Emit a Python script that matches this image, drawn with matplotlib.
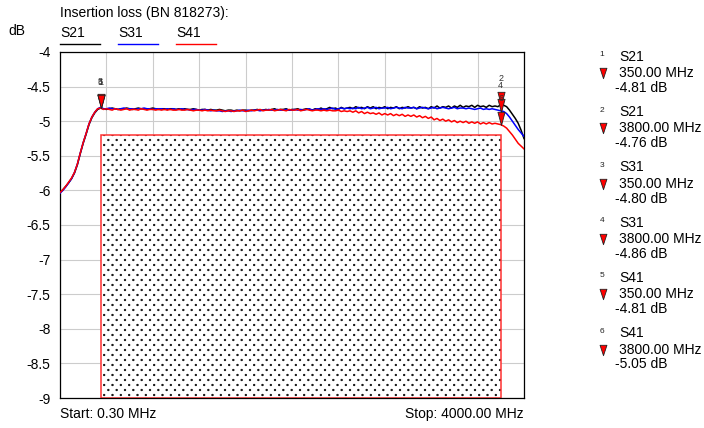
import matplotlib
matplotlib.use("Agg")
import matplotlib.pyplot as plt
import matplotlib.hatch as mhatch
from matplotlib.path import Path
from matplotlib.patches import Rectangle
from matplotlib.lines import Line2D
import numpy as np

plt.rcParams['font.family'] = ['Liberation Sans', 'DejaVu Sans']
plt.rcParams['hatch.color'] = 'black'
plt.rcParams['hatch.linewidth'] = 0.4

# ---------------- data ----------------
title = "Insertion loss (BN 818273):"
trace_names = ["S21", "S31", "S41"]
trace_colors = ["#000000", "#0000ff", "#ff0000"]

freq_mhz = [0.3] + list(range(25, 4001, 25))

s21_db = [
    -6.03, -5.99, -5.94, -5.89, -5.83, -5.75, -5.63, -5.47, -5.32, -5.19, -5.05, -4.95, -4.88, -4.83, -4.81,
    -4.82, -4.83, -4.82, -4.81, -4.82, -4.83, -4.82, -4.82, -4.81, -4.82, -4.83, -4.82, -4.81, -4.82, -4.82,
    -4.83, -4.82, -4.81, -4.82, -4.83, -4.82, -4.82, -4.83, -4.82, -4.82, -4.83,
    -4.82, -4.83, -4.82, -4.83, -4.83, -4.82, -4.83, -4.84, -4.83, -4.83, -4.84, -4.83, -4.84, -4.84, -4.83,
    -4.84, -4.85, -4.84, -4.84, -4.85, -4.84, -4.85, -4.84, -4.84, -4.85, -4.84, -4.84, -4.83, -4.84, -4.84,
    -4.83, -4.84, -4.83, -4.82, -4.84, -4.83, -4.83, -4.82, -4.84, -4.83,
    -4.83, -4.82, -4.84, -4.83, -4.82, -4.83, -4.84, -4.82, -4.83, -4.81, -4.83, -4.82, -4.80, -4.82, -4.81,
    -4.83, -4.80, -4.82, -4.81, -4.80,
    -4.82, -4.79, -4.81, -4.80, -4.82, -4.79, -4.81, -4.79, -4.82, -4.80,
    -4.81, -4.79, -4.82, -4.80, -4.81, -4.79, -4.82, -4.80, -4.81, -4.79,
    -4.81, -4.80, -4.82, -4.79, -4.81, -4.80, -4.82, -4.79, -4.81, -4.78,
    -4.81, -4.79, -4.80, -4.78, -4.81, -4.78, -4.80, -4.77, -4.80, -4.78,
    -4.79, -4.77, -4.80, -4.77, -4.79, -4.78, -4.80, -4.77, -4.79, -4.78,
    -4.79, -4.76,
    -4.77, -4.79, -4.84, -4.90, -4.96, -5.03, -5.13, -5.25,
]

s31_db = [
    -6.04, -6.00, -5.95, -5.89, -5.83, -5.74, -5.62, -5.46, -5.31, -5.18, -5.04, -4.94, -4.87, -4.82, -4.80,
    -4.82, -4.82, -4.81, -4.82, -4.82, -4.83, -4.82, -4.81, -4.82, -4.82, -4.82, -4.83, -4.82, -4.82, -4.81,
    -4.82, -4.82, -4.83, -4.82, -4.82, -4.82, -4.83, -4.82, -4.83, -4.82, -4.83,
    -4.83, -4.82, -4.83, -4.83, -4.84, -4.83, -4.83, -4.84, -4.84, -4.83, -4.84, -4.85, -4.84, -4.85, -4.85,
    -4.86, -4.85, -4.85, -4.86, -4.85, -4.85, -4.84, -4.85, -4.85, -4.84, -4.85, -4.84, -4.84, -4.85, -4.84,
    -4.84, -4.83, -4.84, -4.84, -4.83, -4.84, -4.84, -4.83, -4.84, -4.84,
    -4.83, -4.84, -4.83, -4.84, -4.83, -4.82, -4.84, -4.83, -4.82, -4.83, -4.82, -4.83, -4.82, -4.81, -4.83,
    -4.82, -4.81, -4.82, -4.81, -4.82,
    -4.81, -4.82, -4.80, -4.82, -4.81, -4.80, -4.82, -4.81, -4.80, -4.82,
    -4.81, -4.81, -4.80, -4.82, -4.81, -4.80, -4.81, -4.82, -4.80, -4.81,
    -4.81, -4.80, -4.82, -4.81, -4.80, -4.81, -4.82, -4.81, -4.80, -4.82,
    -4.81, -4.80, -4.81, -4.82, -4.81, -4.80, -4.82, -4.81, -4.81, -4.82,
    -4.81, -4.82, -4.83, -4.82, -4.81, -4.83, -4.82, -4.83, -4.82, -4.83,
    -4.84, -4.85,
    -4.86, -4.89, -4.94, -5.00, -5.06, -5.12, -5.17, -5.22,
]

s41_db = [
    -6.03, -5.99, -5.94, -5.88, -5.82, -5.74, -5.62, -5.46, -5.31, -5.18, -5.04, -4.94, -4.87, -4.82, -4.81,
    -4.83, -4.82, -4.83, -4.84, -4.82, -4.83, -4.84, -4.83, -4.82, -4.84, -4.83, -4.83, -4.84, -4.82, -4.83,
    -4.84, -4.83, -4.83, -4.84, -4.83, -4.84, -4.83, -4.84, -4.83, -4.84, -4.84,
    -4.83, -4.84, -4.84, -4.83, -4.84, -4.85, -4.84, -4.84, -4.85, -4.84, -4.85, -4.84, -4.85, -4.85, -4.84,
    -4.85, -4.86, -4.85, -4.85, -4.86, -4.85, -4.85, -4.84, -4.86, -4.85, -4.84, -4.85, -4.84, -4.83, -4.85,
    -4.84, -4.84, -4.83, -4.85, -4.84, -4.83, -4.84, -4.85, -4.83, -4.84,
    -4.84, -4.83, -4.85, -4.84, -4.83, -4.84, -4.85, -4.84, -4.84, -4.85, -4.84, -4.85, -4.84, -4.85, -4.85,
    -4.84, -4.86, -4.85, -4.86, -4.85,
    -4.87, -4.85, -4.88, -4.86, -4.89, -4.87, -4.89, -4.88, -4.90, -4.88,
    -4.91, -4.89, -4.91, -4.89, -4.92, -4.90, -4.92, -4.90, -4.93, -4.91,
    -4.93, -4.91, -4.94, -4.92, -4.95, -4.93, -4.96, -4.94, -4.98, -4.96,
    -4.99, -4.97, -5.00, -4.98, -5.01, -4.99, -5.02, -5.00, -5.02, -5.00,
    -5.03, -5.01, -5.03, -5.01, -5.04, -5.02, -5.04, -5.02, -5.04, -5.03,
    -5.04, -5.05,
    -5.07, -5.10, -5.15, -5.20, -5.26, -5.32, -5.36, -5.40,
]

# spec mask (limit box)
mask_freq = [350, 3800]
mask_db = [-9.0, -5.2]

# markers
marker_ids = [1, 2, 3, 4, 5, 6]
marker_trace = ["S21", "S21", "S31", "S31", "S41", "S41"]
marker_freq = [350.00, 3800.00, 350.00, 3800.00, 350.00, 3800.00]
marker_db = [-4.81, -4.76, -4.80, -4.86, -4.81, -5.05]

y_min, y_max, y_step = -9.0, -4.0, 0.5
x_start, x_stop = 0.3, 4000.0
n_xdiv = 10


# ---------------- dotted hatch (staggered dot lattice) ----------------
class DotLattice(mhatch.HatchPatternBase):
    ncols = 12
    nrows = 20
    radius = 0.0085

    def __init__(self, hatch, density):
        circ = Path.unit_circle()
        self.shape_vertices = circ.vertices
        self.shape_codes = circ.codes
        self.pts = []
        if hatch.count('.') > 0:
            for r in range(self.nrows + 1):
                if r % 2 == 0:
                    cols = np.linspace(0, 1, self.ncols + 1)
                else:
                    cols = (np.arange(self.ncols) + 0.5) / self.ncols
                for c in cols:
                    self.pts.append((c, r / self.nrows))
        self.num_vertices = len(self.pts) * len(self.shape_vertices)

    def set_vertices_and_codes(self, vertices, codes):
        sv = self.shape_vertices * self.radius
        vertices[:] = np.concatenate([sv + np.array(p) for p in self.pts])
        codes[:] = np.concatenate([self.shape_codes] * len(self.pts))


mhatch._hatch_types = [t for t in mhatch._hatch_types
                       if t is not mhatch.SmallFilledCircles] + [DotLattice]

# ---------------- figure ----------------
W, H = 704, 428
fig = plt.figure(figsize=(W / 100, H / 100), dpi=100)
FS = 10


def fx(px):
    return px / W


def fy(py):
    return 1 - py / H


L, R, T, B = 60, 524, 52, 398
ax = fig.add_axes([fx(L), fy(B), fx(R) - fx(L), fy(T) - fy(B)])

series = [s21_db, s31_db, s41_db]

ax.set_xlim(x_start, x_stop)
ax.set_ylim(y_min, y_max)
ax.set_xticks(np.linspace(x_start, x_stop, n_xdiv + 1))
ax.set_xticklabels([])
yt = np.arange(y_min, y_max + 1e-9, y_step)
ax.set_yticks(yt)
ax.set_yticklabels([("%g" % v) for v in yt], fontsize=FS)
ax.tick_params(axis='both', length=0)
ax.tick_params(axis='y', pad=7)
ax.grid(True, color="#cccccc", linewidth=0.8)
ax.set_axisbelow(True)
for sp in ax.spines.values():
    sp.set_color("#000000")
    sp.set_linewidth(0.9)

# mask box
ax.add_patch(Rectangle((mask_freq[0], mask_db[0]), mask_freq[1] - mask_freq[0],
                       mask_db[1] - mask_db[0], facecolor="white", edgecolor="black",
                       linewidth=0, hatch=".", zorder=1.5))
ax.add_patch(Rectangle((mask_freq[0], mask_db[0]), mask_freq[1] - mask_freq[0],
                       mask_db[1] - mask_db[0], facecolor="none", edgecolor="#ff3030",
                       linewidth=1.1, zorder=1.6))

for vals, c in zip(series, trace_colors):
    ax.plot(freq_mhz, vals, color=c, linewidth=1.1, zorder=3)

# marker triangles (tip at the point)
tri = Path([(-0.27, 1.0), (0.27, 1.0), (0.0, 0.0), (-0.27, 1.0)],
           [Path.MOVETO, Path.LINETO, Path.LINETO, Path.CLOSEPOLY])
for mid, f, v in zip(marker_ids, marker_freq, marker_db):
    ax.plot([f], [v], marker=tri, markersize=19, markerfacecolor="#ff0000",
            markeredgecolor="#222222", markeredgewidth=0.6, linestyle="none",
            zorder=5, clip_on=False)
    ax.annotate(str(mid), (f, v), xytext=(0, 18.5), textcoords="offset points",
                ha="center", va="center", fontsize=6.5, color="#333333",
                zorder=6)

# header texts
fig.text(fx(60), fy(13.5), title, fontsize=FS, ha="left", va="center")
fig.text(fx(8), fy(31), "dB", fontsize=FS, ha="left", va="center")
leg_x = [60, 118, 176]
for name, c, x0 in zip(trace_names, trace_colors, leg_x):
    fig.text(fx(x0), fy(33), name, fontsize=FS, ha="left", va="center")
    fig.add_artist(Line2D([fx(x0), fx(x0 + 40)], [fy(43.5), fy(43.5)],
                          color=c, linewidth=1.0, transform=fig.transFigure))

fig.text(fx(60), fy(414), "Start: %.2f MHz" % freq_mhz[0], fontsize=FS,
         ha="left", va="center")
fig.text(fx(524), fy(414), "Stop: %.2f MHz" % x_stop, fontsize=FS,
         ha="right", va="center")

# marker table on the right
small_tri = Path([(-0.33, 0.5), (0.33, 0.5), (0.0, -0.5), (-0.33, 0.5)],
                 [Path.MOVETO, Path.LINETO, Path.LINETO, Path.CLOSEPOLY])
for k, (mid, tr, f, v) in enumerate(zip(marker_ids, marker_trace, marker_freq, marker_db)):
    y0 = 56.7 + 55.3 * k
    fig.text(fx(601.7), fy(y0 - 2), str(mid), fontsize=6, ha="center",
             va="center", color="#222222")
    fig.text(fx(619), fy(y0), tr, fontsize=FS, ha="left", va="center")
    fig.add_artist(Line2D([fx(603)], [fy(y0 + 16.3)], marker=small_tri,
                          markersize=7.5, markerfacecolor="#ff0000",
                          markeredgecolor="#222222", markeredgewidth=0.6,
                          linestyle="none", transform=fig.transFigure))
    fig.text(fx(619), fy(y0 + 16.3), "%.2f MHz" % f, fontsize=FS, ha="left", va="center")
    fig.text(fx(615), fy(y0 + 31.3), "%.2f dB" % v, fontsize=FS, ha="left", va="center")

fig.savefig("out.png", dpi=100)
